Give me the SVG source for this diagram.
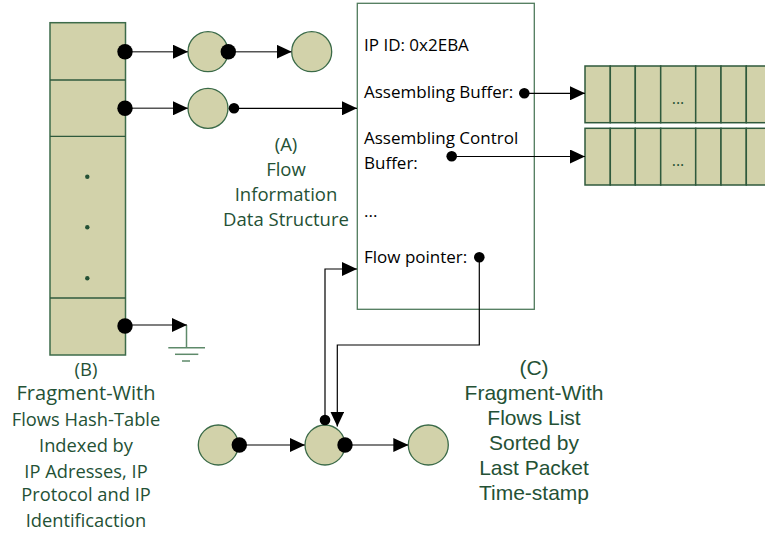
<svg xmlns="http://www.w3.org/2000/svg" width="765" height="533" viewBox="0 0 765 533">
<defs>
<style>
.tan{fill:#D2D2AA;stroke:#3A6A48;stroke-width:1.3}
.cell{fill:#D2D2AA;stroke:#2F5A3C;stroke-width:1.5}
.line{fill:none;stroke:#000;stroke-width:1.2}
.gline{fill:none;stroke:#555;stroke-width:1.5}
.box{fill:#fff;stroke:#4F7A5C;stroke-width:1.3}
.dot{fill:#000}
.gnd{fill:none;stroke:#5E8A6A;stroke-width:1.5}
.btxt{font-family:"Open Sans","Noto Sans",sans-serif;font-size:17px;fill:#000}
.lbl{font-family:"Open Sans","Noto Sans",sans-serif;fill:#245135;text-anchor:middle}
.lblc{font-family:"Liberation Sans",Arial,sans-serif;fill:#245135;text-anchor:middle;font-size:21px}
</style>
<marker id="arr" viewBox="0 0 15 14" refX="15" refY="7" markerWidth="15" markerHeight="14" markerUnits="userSpaceOnUse" orient="auto">
<path d="M0,0 L15,7 L0,14 Z" fill="#000"/>
</marker>
</defs>

<g id="ground">
<line class="gnd" x1="186.5" y1="325" x2="186.5" y2="347.7"/>
<line class="gnd" x1="168.3" y1="347.7" x2="205" y2="347.7"/>
<line class="gnd" x1="175" y1="354.3" x2="198.3" y2="354.3"/>
<line class="gnd" x1="182" y1="361" x2="190" y2="361"/>
</g>

<g id="hash-table">
<rect class="tan" x="50" y="22.7" width="75.5" height="332.3" style="stroke:#3D6B4A;stroke-width:1.5"/>
<line class="tan" x1="50" y1="80" x2="125.5" y2="80" style="stroke:#2F5A3C"/>
<line class="tan" x1="50" y1="136.3" x2="125.5" y2="136.3" style="stroke:#2F5A3C"/>
<line class="tan" x1="50" y1="298" x2="125.5" y2="298" style="stroke:#2F5A3C"/>
<circle cx="87.3" cy="176.7" r="2.2" fill="#245135"/>
<circle cx="87.3" cy="227.3" r="2.2" fill="#245135"/>
<circle cx="87.3" cy="278.3" r="2.2" fill="#245135"/>
</g>

<g id="hash-label">
<text class="lbl" x="86" y="376" font-size="18.5">(B)</text>
<text class="lbl" x="86" y="400" font-size="20">Fragment-With</text>
<text class="lbl" x="86" y="426" font-size="18.3">Flows Hash-Table</text>
<text class="lbl" x="86" y="452" font-size="18.3">Indexed by</text>
<text class="lbl" x="86" y="478" font-size="18.3">IP Adresses, IP</text>
<text class="lbl" x="86" y="501" font-size="18.3">Protocol and IP</text>
<text class="lbl" x="86" y="527" font-size="18.3">Identificaction</text>
</g>

<g id="flow-info">
<rect class="box" x="357.3" y="3.3" width="177" height="306"/>
<text class="btxt" x="364" y="51">IP ID: 0x2EBA</text>
<text class="btxt" x="364" y="98">Assembling Buffer:</text>
<text class="btxt" x="364" y="144">Assembling Control</text>
<text class="btxt" x="364" y="169">Buffer:</text>
<text class="btxt" x="364" y="217">...</text>
<text class="btxt" x="364" y="263">Flow pointer:</text>
</g>

<g id="flow-label">
<text class="lbl" x="286" y="151" font-size="18.5">(A)</text>
<text class="lbl" x="286" y="176" font-size="18.5">Flow</text>
<text class="lbl" x="286" y="201" font-size="18.5">Information</text>
<text class="lbl" x="286" y="226" font-size="18.5">Data Structure</text>
</g>

<g id="assembling-buffer">
<rect class="cell" x="585" y="66" width="25.3" height="56.7"/>
<rect class="cell" x="610.3" y="66" width="25" height="56.7"/>
<rect class="cell" x="635.3" y="66" width="25.4" height="56.7"/>
<rect class="cell" x="660.7" y="66" width="35" height="56.7"/>
<rect class="cell" x="695.7" y="66" width="25.3" height="56.7"/>
<rect class="cell" x="721" y="66" width="25.3" height="56.7"/>
<rect class="cell" x="746.3" y="66" width="25.3" height="56.7"/>
<text x="678" y="104" font-family="'Open Sans',sans-serif" font-size="16" fill="#245135" text-anchor="middle">...</text>
</g>

<g id="control-buffer">
<rect class="cell" x="585" y="128.3" width="25.3" height="56.7"/>
<rect class="cell" x="610.3" y="128.3" width="25" height="56.7"/>
<rect class="cell" x="635.3" y="128.3" width="25.4" height="56.7"/>
<rect class="cell" x="660.7" y="128.3" width="35" height="56.7"/>
<rect class="cell" x="695.7" y="128.3" width="25.3" height="56.7"/>
<rect class="cell" x="721" y="128.3" width="25.3" height="56.7"/>
<rect class="cell" x="746.3" y="128.3" width="25.3" height="56.7"/>
<text x="678" y="166" font-family="'Open Sans',sans-serif" font-size="16" fill="#245135" text-anchor="middle">...</text>
</g>

<g id="node-r1c1">
<circle class="tan" cx="208" cy="51.7" r="20"/>
</g>
<g id="node-r1c2">
<circle class="tan" cx="311.7" cy="51.7" r="20"/>
</g>
<g id="node-r2c1">
<circle class="tan" cx="208" cy="108.3" r="20"/>
</g>
<g id="list-node-1">
<circle class="tan" cx="218.3" cy="445" r="20"/>
</g>
<g id="list-node-2">
<circle class="tan" cx="325" cy="445" r="20"/>
</g>
<g id="list-node-3">
<circle class="tan" cx="428.3" cy="445" r="20"/>
</g>

<g id="list-label">
<text class="lblc" x="534" y="375">(C)</text>
<text class="lblc" x="534" y="400">Fragment-With</text>
<text class="lblc" x="534" y="425">Flows List</text>
<text class="lblc" x="534" y="450">Sorted by</text>
<text class="lblc" x="534" y="475">Last Packet</text>
<text class="lblc" x="534" y="500">Time-stamp</text>
</g>

<g id="connectors">
<line class="gline" x1="125" y1="51.7" x2="188" y2="51.7" marker-end="url(#arr)"/>
<line class="gline" x1="228" y1="51.7" x2="291.7" y2="51.7" marker-end="url(#arr)"/>
<line class="gline" x1="125" y1="108.3" x2="188" y2="108.3" marker-end="url(#arr)"/>
<line class="line" x1="234" y1="108.3" x2="357" y2="108.3" marker-end="url(#arr)"/>
<line class="gline" x1="125" y1="325" x2="187" y2="325" marker-end="url(#arr)"/>
<line class="line" x1="524" y1="93.3" x2="585" y2="93.3" marker-end="url(#arr)"/>
<line class="line" x1="451.7" y1="156.5" x2="585" y2="156.5" marker-end="url(#arr)"/>
<polyline class="line" points="325,420 325,269 357,269" marker-end="url(#arr)"/>
<polyline class="line" points="479.3,257.3 479.3,345 337.3,345 337.3,426.5" marker-end="url(#arr)"/>
<line class="gline" x1="239" y1="445" x2="305" y2="445" marker-end="url(#arr)"/>
<line class="gline" x1="345" y1="445" x2="408.3" y2="445" marker-end="url(#arr)"/>
<circle class="dot" cx="125" cy="51.7" r="7.7"/>
<circle class="dot" cx="125" cy="108.3" r="7.7"/>
<circle class="dot" cx="125" cy="326" r="7.7"/>
<circle class="dot" cx="228.3" cy="51.7" r="7.7"/>
<circle class="dot" cx="234" cy="108.3" r="5.3"/>
<circle class="dot" cx="524.3" cy="93.3" r="5.3"/>
<circle class="dot" cx="451.7" cy="156.3" r="5.3"/>
<circle class="dot" cx="479.3" cy="257.3" r="5.3"/>
<circle class="dot" cx="239.3" cy="445" r="7.7"/>
<circle class="dot" cx="345" cy="445" r="7.7"/>
<circle class="dot" cx="325" cy="420" r="5.3"/>
</g>
</svg>
